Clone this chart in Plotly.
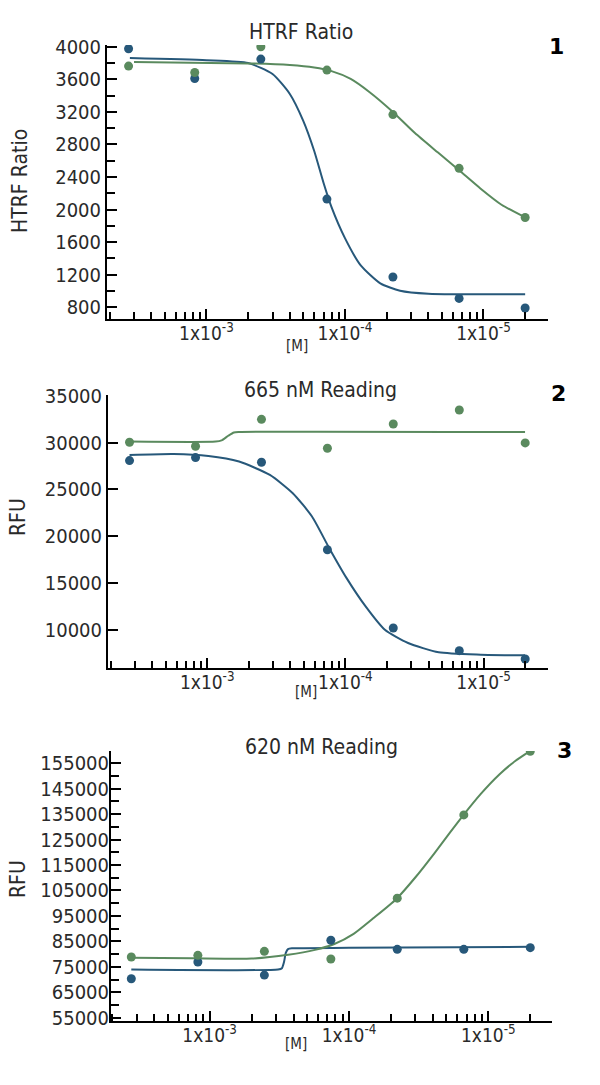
import plotly.graph_objects as go

# dilution positions (log axis), tick labels
dilution = [0.274, 0.823, 2.47, 7.41, 22.2, 66.7, 200]
tick_vals = [1, 10, 100]
tick_text = ["1x10<sup>-3</sup>", "1x10<sup>-4</sup>", "1x10<sup>-5</sup>"]
minor_vals = [0.2, 0.3, 0.4, 0.5, 0.6, 0.7, 0.8, 0.9,
              2, 3, 4, 5, 6, 7, 8, 9, 20, 30, 40, 50, 60, 70, 80, 90, 200]

# panel 1 - HTRF ratio
htrf_blue = [3975, 3610, 3848, 2129, 1173, 910, 792]
htrf_green = [3762, 3684, 4000, 3713, 3167, 2507, 1903]
htrf_blue_fit_x = [0.28, 1.0, 2.0, 3.0, 4.0, 5.0, 6.0, 7.0, 8.0, 10.0, 13.0, 18.0, 25.0, 40.0, 200]
htrf_blue_fit_y = [3862, 3835, 3800, 3665, 3420, 3090, 2720, 2330, 2030, 1650, 1315, 1095, 1005, 968, 960]
htrf_green_fit_x = [0.3, 2.0, 4.0, 6.0, 8.0, 11.0, 15.0, 22.0, 32.0, 47.0, 67.0, 95.0, 135.0, 200]
htrf_green_fit_y = [3812, 3795, 3775, 3745, 3700, 3605, 3445, 3205, 2940, 2700, 2480, 2260, 2060, 1905]

# panel 2 - 665 nM reading
r665_blue = [28092, 28412, 27914, 18549, 10181, 7758, 6868]
r665_green = [30050, 29623, 32507, 29409, 32009, 33504, 29979]
r665_blue_fit_x = [0.274, 0.57, 1.02, 1.7, 2.84, 4.16, 5.73, 7.64, 10.2, 14.0, 19.3, 28.4, 47.3, 95.5, 199.5]
r665_blue_fit_y = [28697, 28804, 28590, 27985, 26560, 24602, 22110, 18726, 15521, 12495, 10000, 8577, 7580, 7331, 7260]
r665_green_fit_x = [0.274, 1.15, 1.27, 1.42, 1.56, 1.7, 199.5]
r665_green_fit_y = [30121, 30121, 30250, 30750, 31100, 31154, 31154]

# panel 3 - 620 nM reading
r620_blue = [70376, 76936, 71819, 85464, 81922, 81922, 82578]
r620_green = [78904, 79560, 81134, 78116, 101995, 134664, 159592]
r620_blue_fit_x = [0.274, 3.1, 3.3, 3.42, 3.52, 3.65, 3.9, 10.0, 199.5]
r620_blue_fit_y = [74000, 74000, 74500, 77000, 80500, 82000, 82300, 82500, 82900]
r620_green_fit_x = [0.274, 0.75, 2.0, 3.66, 5.7, 7.85, 10.8, 14.85, 21.8, 30.0, 41.0, 53.0, 65.4, 88.0, 121.0, 156.0, 200]
r620_green_fit_y = [78600, 78400, 78300, 79800, 81700, 84000, 88000, 94000, 101600, 110200, 119600, 127700, 134200, 142800, 150700, 155800, 159800]

BLUE = "#27587a"
GREEN = "#5a8a5e"
FONT = "DejaVu Sans Condensed, Liberation Sans Narrow, DejaVu Sans"
TXT = "#2a2a2a"

fig = go.Figure()

panels = [
    ("x", "y", htrf_blue, htrf_green, htrf_blue_fit_x, htrf_blue_fit_y, htrf_green_fit_x, htrf_green_fit_y),
    ("x2", "y2", r665_blue, r665_green, r665_blue_fit_x, r665_blue_fit_y, r665_green_fit_x, r665_green_fit_y),
    ("x3", "y3", r620_blue, r620_green, r620_blue_fit_x, r620_blue_fit_y, r620_green_fit_x, r620_green_fit_y),
]
for xa, ya, b, g, bfx, bfy, gfx, gfy in panels:
    fig.add_trace(go.Scatter(x=bfx, y=bfy, mode="lines", xaxis=xa, yaxis=ya,
                             line=dict(color=BLUE, width=2, shape="spline", smoothing=0.6)))
    fig.add_trace(go.Scatter(x=gfx, y=gfy, mode="lines", xaxis=xa, yaxis=ya,
                             line=dict(color=GREEN, width=2, shape="spline", smoothing=0.6)))
    fig.add_trace(go.Scatter(x=dilution, y=b, mode="markers", xaxis=xa, yaxis=ya,
                             marker=dict(color=BLUE, size=9)))
    fig.add_trace(go.Scatter(x=dilution, y=g, mode="markers", xaxis=xa, yaxis=ya,
                             marker=dict(color=GREEN, size=9)))

W, H = 600, 1085


def px(x):
    return x / W


def py(y):
    return 1 - y / H


def xaxis(x0, x1, rng):
    return dict(
        type="log", domain=[px(x0), px(x1)], range=rng, automargin=False,
        showline=True, linecolor="black", linewidth=2, showgrid=False, zeroline=False,
        ticks="inside", ticklen=10, tickwidth=2, tickcolor="black",
        tickvals=tick_vals, ticktext=tick_text, ticklabelstandoff=-4,
        tickfont=dict(family=FONT, size=19, color=TXT),
        minor=dict(ticks="inside", ticklen=7, tickwidth=2, tickcolor="black",
                   tickvals=minor_vals, showgrid=False),
    )


def yaxis(y0, y1, rng, tick0, dtick, minor_dtick=None, standoff=0):
    ax = dict(
        domain=[py(y1), py(y0)], range=rng, automargin=False,
        showline=True, linecolor="black", linewidth=2, showgrid=False, zeroline=False,
        ticks="inside", ticklen=10, tickwidth=2, tickcolor="black",
        tick0=tick0, dtick=dtick, tickformat="d", ticklabelstandoff=standoff,
        tickfont=dict(family=FONT, size=20, color=TXT),
    )
    if minor_dtick:
        ax["minor"] = dict(ticks="inside", ticklen=8, tickwidth=2, tickcolor="black",
                           dtick=minor_dtick, showgrid=False)
    return ax


fig.update_layout(
    width=W, height=H,
    margin=dict(l=0, r=0, t=0, b=0, pad=0),
    paper_bgcolor="white", plot_bgcolor="white",
    showlegend=False,
    xaxis=xaxis(107, 548, [-0.718, 2.466]),
    yaxis=yaxis(45, 319, [657, 4021], 0, 400, 200),
    xaxis2=dict(xaxis(108, 548, [-0.718, 2.466]), anchor="y2"),
    yaxis2=dict(yaxis(395, 668, [5906, 35107], 0, 5000), anchor="x2"),
    xaxis3=dict(xaxis(111, 552, [-0.708, 2.457]), anchor="y3"),
    yaxis3=dict(yaxis(751, 1021, [53800, 159724], 55000, 10000, 5000, standoff=-4), anchor="x3"),
)

notes = [
    ("HTRF Ratio", 301, 32, 21, 0),
    ("665 nM Reading", 320, 390, 21, 0),
    ("620 nM Reading", 321, 747, 21, 0),
    ("HTRF Ratio", 20, 181, 21, -90),
    ("RFU", 18, 517, 21, -90),
    ("RFU", 18, 879, 21, -90),
    ("[M]", 297, 346, 15, 0),
    ("[M]", 306, 692, 15, 0),
    ("[M]", 296, 1044, 15, 0),
]
for text, x, y, size, angle in notes:
    fig.add_annotation(text=text, x=px(x), y=py(y), xref="paper", yref="paper",
                       showarrow=False, textangle=angle, xanchor="center", yanchor="middle",
                       font=dict(family=FONT, size=size, color=TXT))

for text, x, y in [("1", 556, 47), ("2", 558, 393), ("3", 564, 750)]:
    fig.add_annotation(text="<b>" + text + "</b>", x=px(x), y=py(y), xref="paper", yref="paper",
                       showarrow=False, xanchor="center", yanchor="middle",
                       font=dict(family="DejaVu Sans", size=22, color="black"))

# drop the default body margin so the figure fills the window exactly
fig.write_html("out.html", config={"displayModeBar": False},
               post_script="document.body.style.margin='0';document.body.style.overflow='hidden';")
